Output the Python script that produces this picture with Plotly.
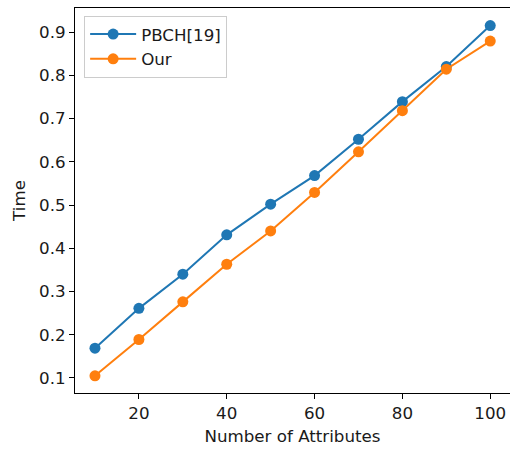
import plotly.graph_objects as go

attributes = [10, 20, 30, 40, 50, 60, 70, 80, 90, 100]
pbch_time = [0.169, 0.261, 0.340, 0.431, 0.502, 0.568, 0.652, 0.739, 0.820, 0.915]
our_time = [0.105, 0.189, 0.276, 0.363, 0.440, 0.529, 0.623, 0.718, 0.814, 0.879]
x_ticks = [20, 40, 60, 80, 100]
y_ticks = [0.1, 0.2, 0.3, 0.4, 0.5, 0.6, 0.7, 0.8, 0.9]

fig = go.Figure()
fig.add_trace(go.Scatter(x=attributes, y=pbch_time, mode="lines+markers", name="PBCH[19]",
                         line=dict(color="#1f77b4", width=2), marker=dict(size=11, color="#1f77b4")))
fig.add_trace(go.Scatter(x=attributes, y=our_time, mode="lines+markers", name="Our",
                         line=dict(color="#ff7f0e", width=2), marker=dict(size=11, color="#ff7f0e")))

FS = 16.7
axis_common = dict(showline=True, linecolor="black", linewidth=1, mirror=True, ticks="outside",
                   ticklen=5, tickcolor="black", showgrid=False, zeroline=False,
                   tickfont=dict(family="DejaVu Sans", size=FS, color="#1a1a1a"))
fig.update_layout(
    width=510, height=453,
    margin=dict(l=75, r=0, t=8, b=60),
    plot_bgcolor="white", paper_bgcolor="white",
    font=dict(family="DejaVu Sans", size=FS, color="#1a1a1a"),
    xaxis=dict(range=[5.45, 104.5], tickvals=x_ticks,
               title=dict(text="Number of Attributes", font=dict(size=FS), standoff=8), **axis_common),
    yaxis=dict(range=[0.0653, 0.9555], tickvals=y_ticks, tickformat=".1f",
               title=dict(text="Time", font=dict(size=FS), standoff=9), **axis_common),
    legend=dict(x=0.021, y=0.98, xanchor="left", yanchor="top", bgcolor="white",
                bordercolor="#cccccc", borderwidth=1, font=dict(size=FS), itemwidth=46),
)
fig.write_html("out.html", config={"displayModeBar": False},
               post_script="document.body.style.margin='0';document.body.style.overflow='hidden';")
